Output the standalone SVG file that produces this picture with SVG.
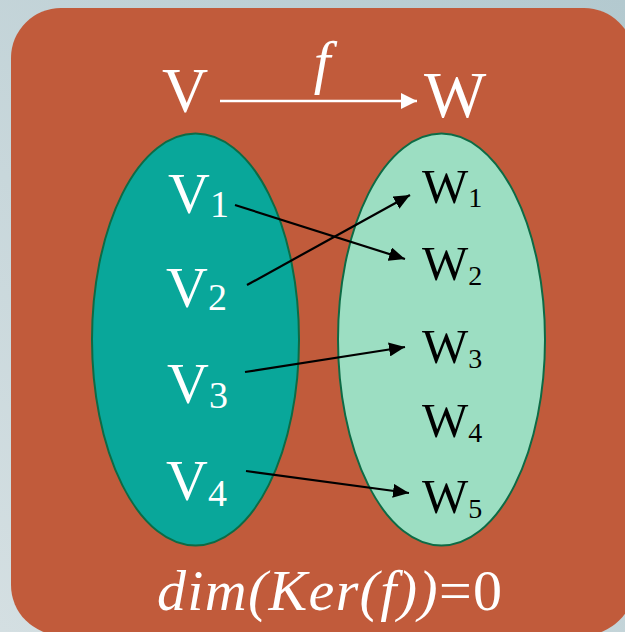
<svg xmlns="http://www.w3.org/2000/svg" width="625" height="632" viewBox="0 0 625 632">
<defs>
<linearGradient id="bg" x1="1" y1="0" x2="0" y2="1">
<stop offset="0" stop-color="#b3c9cf"/>
<stop offset="1" stop-color="#d4dfe2"/>
</linearGradient>
<marker id="ab" viewBox="0 0 16 14" refX="16" refY="7" markerWidth="16" markerHeight="14" markerUnits="userSpaceOnUse" orient="auto">
<path d="M0,0 L16,7 L0,14 Z" fill="#000"/>
</marker>
<marker id="aw" viewBox="0 0 16 16" refX="16" refY="8" markerWidth="16" markerHeight="16" markerUnits="userSpaceOnUse" orient="auto">
<path d="M0,0 L16,8 L0,16 Z" fill="#fff"/>
</marker>
</defs>
<style>
.lbl{font-family:"Liberation Serif","Times New Roman",serif;}
.w{fill:#fff;}
.k{fill:#000;}
.conn{stroke:#000;stroke-width:2.2;fill:none;}
.ell{stroke:#0d6b45;stroke-width:2;}
</style>
<rect x="0" y="0" width="625" height="632" fill="url(#bg)"/>
<rect x="11" y="8" width="623" height="627" rx="50" ry="50" fill="#c15b3b"/>
<g id="title">
<text class="lbl w" x="162" y="112" font-size="64">V</text>
<text class="lbl w" x="424" y="117" font-size="66">W</text>
<text class="lbl w" x="322" y="82" font-size="60" font-style="italic" text-anchor="middle">f</text>
<line x1="220" y1="101" x2="417" y2="101" stroke="#fff" stroke-width="2.5" marker-end="url(#aw)"/>
</g>
<g id="setV">
<ellipse class="ell" cx="195.5" cy="339.5" rx="103.5" ry="206" fill="#09a79a"/>
</g>
<g id="setW">
<ellipse class="ell" cx="441.5" cy="339.5" rx="103.5" ry="206" fill="#9cdec2"/>
</g>
<g id="v1"><text class="lbl w" x="168" y="213" font-size="58">V<tspan font-size="38" dy="4">1</tspan></text></g>
<g id="v2"><text class="lbl w" x="166" y="307" font-size="58">V<tspan font-size="38" dy="3">2</tspan></text></g>
<g id="v3"><text class="lbl w" x="167" y="403" font-size="58">V<tspan font-size="38" dy="5">3</tspan></text></g>
<g id="v4"><text class="lbl w" x="166" y="500" font-size="58">V<tspan font-size="38" dy="6">4</tspan></text></g>
<g id="w1"><text class="lbl k" x="422" y="203" font-size="49">W<tspan font-size="28" dy="4">1</tspan></text></g>
<g id="w2"><text class="lbl k" x="422" y="280" font-size="49">W<tspan font-size="28" dy="5">2</tspan></text></g>
<g id="w3"><text class="lbl k" x="422" y="363" font-size="49">W<tspan font-size="28" dy="5">3</tspan></text></g>
<g id="w4"><text class="lbl k" x="422" y="437" font-size="49">W<tspan font-size="28" dy="5">4</tspan></text></g>
<g id="w5"><text class="lbl k" x="422" y="513" font-size="49">W<tspan font-size="28" dy="5">5</tspan></text></g>
<g id="connectors">
<line class="conn" x1="235" y1="205" x2="405" y2="259" marker-end="url(#ab)"/>
<line class="conn" x1="247" y1="285" x2="410" y2="195" marker-end="url(#ab)"/>
<line class="conn" x1="245" y1="372" x2="405" y2="347" marker-end="url(#ab)"/>
<line class="conn" x1="246" y1="471" x2="409" y2="493" marker-end="url(#ab)"/>
</g>
<g id="formula">
<text class="lbl w" x="157" y="610" font-size="58" textLength="345" lengthAdjust="spacing"><tspan font-style="italic">dim(Ker(f))</tspan>=0</text>
</g>
</svg>
